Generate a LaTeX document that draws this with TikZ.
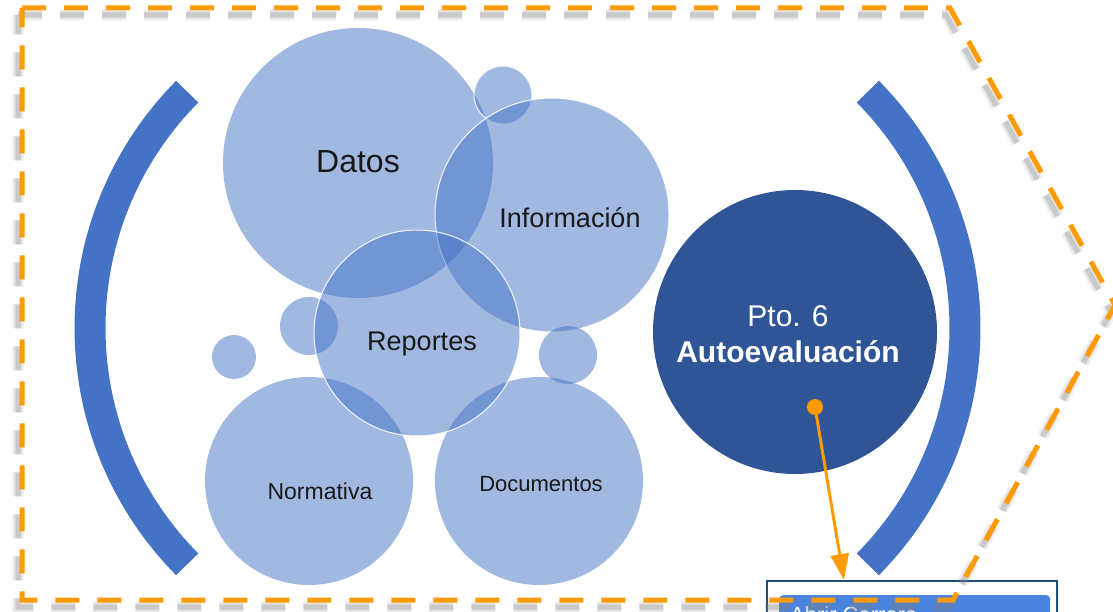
\documentclass[tikz,border=0pt]{standalone}
\usepackage{fontspec}
\setmainfont{Liberation Sans}
\usetikzlibrary{arrows.meta}

\definecolor{bubbleblue}{HTML}{4472C4}
\definecolor{darkblue}{HTML}{2F5597}
\definecolor{frameorange}{HTML}{FF9A00}
\definecolor{boxblue}{HTML}{1F4E79}
\definecolor{buttonblue}{HTML}{4A84DE}

\begin{document}
\begin{tikzpicture}[x=1pt, y=-1pt,
    bubble/.style={circle, inner sep=0pt, fill=bubbleblue, fill opacity=0.5, minimum size=#1},
    rim/.style={draw=white, draw opacity=0.9, line width=1pt},
    bubbletext/.style={text=black!90, inner sep=0pt},
    bracket/.style={draw=bubbleblue, line width=31pt},
    frameline/.style={draw=frameorange, line width=5pt, dash pattern=on 24pt off 18pt},
]
    \useasboundingbox (0,0) rectangle (1113,612);
    \clip (0,0) rectangle (1113,612);

    % the two brackets
    \draw[bracket] (426,328) ++(135.3:336pt) arc[start angle=135.3, end angle=224.7, radius=336pt];
    \draw[bracket] (629,328) ++(44.7:336pt) arc[start angle=44.7, end angle=-44.7, radius=336pt];

    % bubbles
    \node[bubble=270pt] (datos) at (358,163) {};
    \node[bubble=58pt, rim] (gota1) at (503,95) {};
    \node[bubble=234pt, rim] (info) at (552,215) {};
    \node[bubble=58pt] (gota2) at (309,326) {};
    \node[bubble=44pt] (gota3) at (234,357) {};
    \node[bubble=58pt] (gota4) at (568,355) {};
    \node[bubble=208pt] (norma) at (309,481) {};
    \node[bubble=208pt] (docs) at (539,481) {};
    \node[bubble=206pt, rim] (reportes) at (417,333) {};

    \node[bubbletext, font=\fontsize{32}{36}\selectfont] (datostext) at (358,162) {Datos};
    \node[bubbletext, font=\fontsize{27}{32}\selectfont] (infotext) at (570,218) {Información};
    \node[bubbletext, font=\fontsize{27}{32}\selectfont] (reptext) at (422,344) {Reportes};
    \node[bubbletext, font=\fontsize{23}{28}\selectfont] (normatext) at (320,491) {Normativa};
    \node[bubbletext, font=\fontsize{22}{26}\selectfont] (docstext) at (541,484) {Documentos};

    % main point
    \node[circle, inner sep=0pt, fill=darkblue, minimum size=284pt] (pto) at (795,332) {};
    \node[text=white, align=center, inner sep=0pt, font=\fontsize{30}{36}\selectfont] (ptotext) at (788,334) {Pto. 6\\\textbf{Autoevaluación}};

    % target window
    \node[draw=boxblue, line width=2pt, fill=white, minimum width=290pt, minimum height=60pt, inner sep=0pt, anchor=north west] (ventana) at (766,580) {};
    \node[fill=buttonblue, rounded corners=4pt, minimum width=271pt, minimum height=30pt, inner sep=0pt, anchor=north west] (boton) at (779,595) {};
    \node[text=white, anchor=base west, inner sep=0pt, font=\fontsize{22}{26}\selectfont] (botontext) at (790,622) {Abrir Carrera};

    \node[circle, inner sep=0pt, fill=frameorange, minimum size=16pt] (punto) at (815,407) {};
    \coordinate (entrada) at (844,580);
    \draw[-{Triangle[width=18pt, length=26pt]}, draw=frameorange, fill=frameorange, line width=3pt] (punto.center) -- (entrada);

    % dashed frame with its shadow
    \foreach \w/\o in {12/0.10, 8/0.15, 5/0.25} {
        \draw[frameline, draw=gray, line width=\w pt, draw opacity=\o, shift={(-4,7)}]
            (22,8) -- (950,8) -- (1115,305) -- (953,600) -- (22,600) -- cycle;
    }
    \draw[frameline] (22,8) -- (950,8) -- (1115,305) -- (953,600) -- (22,600) -- cycle;
\end{tikzpicture}
\end{document}
